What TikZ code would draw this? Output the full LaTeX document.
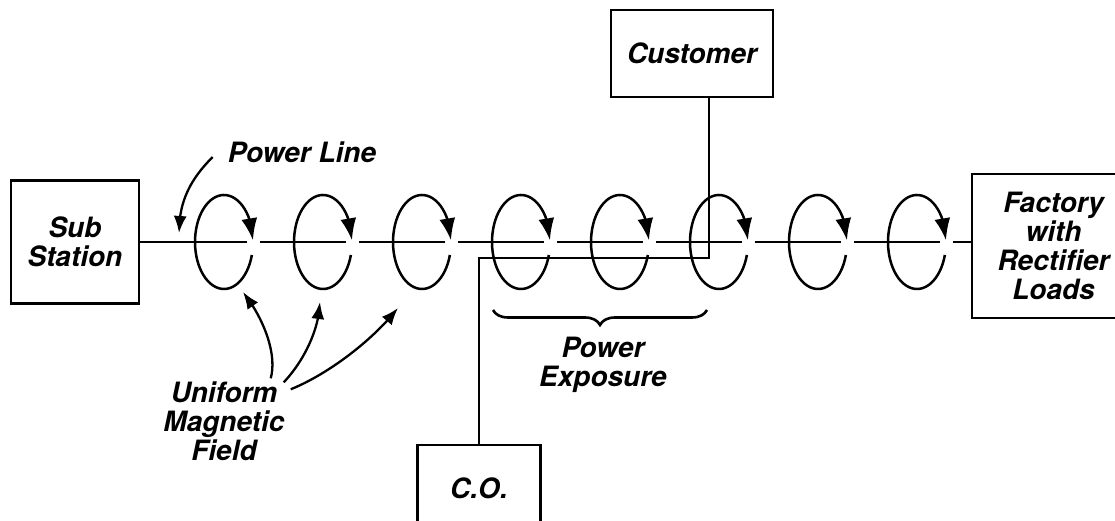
\documentclass[tikz,border=0pt]{standalone}
\usepackage{fontspec}
\setmainfont{TeX Gyre Heros}
\usepackage{tikz}
\usetikzlibrary{arrows.meta,bending,calc,positioning,decorations.pathreplacing}
\newcommand{\labelfont}{\fontsize{28}{29}\selectfont\bfseries\itshape}
\tikzset{
  unitbox/.style={draw, line width=2.2pt, align=center, inner sep=0pt, font=\labelfont},
  tag/.style={align=center, inner sep=0pt, font=\labelfont},
  wire/.style={line width=2pt},
  fieldloop/.style={line width=2.5pt, -{Latex[length=22pt,width=16pt]}},
  pointer/.style={line width=2.3pt, -{Latex[length=17pt,width=13pt]}},
  gapfill/.style={fill=white}
}

\begin{document}
\begin{tikzpicture}[x=1pt,y=1pt]
  \useasboundingbox (0,0) rectangle (1115,521);
  \clip (0,0) rectangle (1115,521);
  \node[unitbox, minimum width=128pt, minimum height=123pt] (sub) at (75,279) {Sub\\Station};
  \node[unitbox, minimum width=163pt, minimum height=144pt] (factory) at (1053.5,275) {Factory\\with\\Rectifier\\Loads};
  \node[unitbox, minimum width=162pt, minimum height=87pt] (cust) at (692,467.5) {Customer};
  \node[unitbox, minimum width=123pt, minimum height=86pt] (co) at (479,33) {C.O.};
  \node[tag] (pline) at (302,369) {Power Line};
  \node[tag] (umf) at (224,100) {Uniform\\Magnetic\\Field};
  \node[tag] (exposure) at (603,156) {Power\\Exposure};
  \coordinate (tap) at (709,263);
  \coordinate (linehit) at (179,288);
  \coordinate (hit1) at (243,229);
  \coordinate (hit2) at (320,219);
  \coordinate (hit3) at (398,213);
  \draw[wire] (sub.east) -- (sub.east -| factory.west);
  \foreach \cx in {224,323,...,917} {
    \fill[gapfill] (\cx+23,274) rectangle (\cx+36,284);
    \draw[fieldloop] (\cx,279) ++(-16:29 and 47) arc[start angle=-16, end angle=-358, x radius=29, y radius=47];
  }
  \draw[wire] (cust.south -| tap) -- (tap) -| (co.north);
  \draw[wire, line width=2.6pt, decorate, decoration={brace, mirror, amplitude=15pt}] (493,211) -- (707,211);
  \draw[pointer] ([shift={(-15,-5)}]pline.west) .. controls +(-22,-22) and +(0,32) .. (linehit);
  \draw[pointer] ($(umf.north east)+(-14,3)$) .. controls +(7,26) and +(19,-24) .. (hit1);
  \draw[pointer] ($(umf.north east)+(-1,-1)$) .. controls +(19,20) and +(-1,-29) .. (hit2);
  \draw[pointer] ($(umf.north east)+(6,-8)$) .. controls +(37,15) and +(-26,-33) .. (hit3);
\end{tikzpicture}
\end{document}
